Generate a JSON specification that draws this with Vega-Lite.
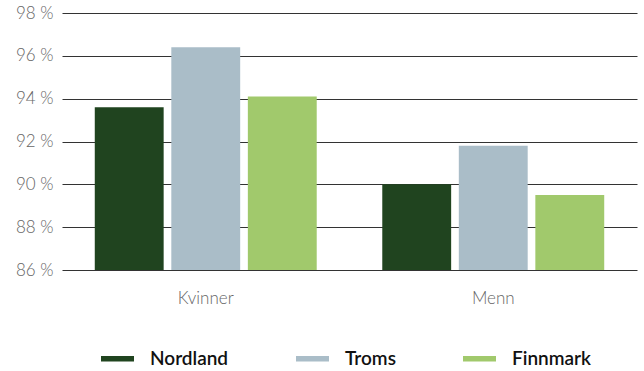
{
  "$schema": "https://vega.github.io/schema/vega-lite/v6.json",
  "width": 575,
  "height": 257,
  "autosize": {"type": "none"},
  "padding": {"left": 62, "top": 13, "right": 7, "bottom": 101},
  "background": "white",
  "data": {"values": [
    {"gruppe": "Kvinner", "fylke": "Nordland", "verdi": 93.6},
    {"gruppe": "Kvinner", "fylke": "Troms", "verdi": 96.4},
    {"gruppe": "Kvinner", "fylke": "Finnmark", "verdi": 94.1},
    {"gruppe": "Menn", "fylke": "Nordland", "verdi": 90.0},
    {"gruppe": "Menn", "fylke": "Troms", "verdi": 91.8},
    {"gruppe": "Menn", "fylke": "Finnmark", "verdi": 89.5}
  ]},
  "mark": {"type": "bar", "clip": true},
  "encoding": {
    "x": {"field": "gruppe", "type": "nominal", "sort": ["Kvinner", "Menn"],
      "scale": {"paddingInner": 0.228, "paddingOuter": 0.114},
      "axis": {"title": null, "labelAngle": 0, "ticks": false, "domain": false, "labelPadding": 20,
        "labelFont": "Lato", "labelFontSize": 17, "labelFontWeight": 300, "labelColor": "#666666"}},
    "xOffset": {"field": "fylke", "type": "nominal", "sort": ["Nordland", "Troms", "Finnmark"],
      "scale": {"paddingInner": 0.1, "paddingOuter": 0}},
    "y": {"field": "verdi", "type": "quantitative",
      "scale": {"domain": [86, 98], "nice": false, "zero": false},
      "axis": {"title": null, "values": [86, 88, 90, 92, 94, 96, 98], "ticks": false, "domain": false,
        "labelExpr": "datum.value + ' %'", "labelPadding": 9,
        "labelFont": "Lato", "labelFontSize": 17, "labelFontWeight": 300, "labelColor": "#666666",
        "grid": true, "gridColor": "#333333", "gridWidth": 1}},
    "color": {"field": "fylke", "type": "nominal", "sort": ["Nordland", "Troms", "Finnmark"],
      "scale": {"domain": ["Nordland", "Troms", "Finnmark"], "range": ["#20441F", "#AABDC8", "#A1C96C"]},
      "legend": {"title": null, "orient": "none", "direction": "horizontal", "legendX": 39, "legendY": 329,
        "symbolType": "M-1,-0.17H1V0.17H-1Z", "symbolSize": 1089, "symbolStrokeWidth": 0, "symbolOpacity": 1,
        "labelFont": "Lato", "labelFontSize": 19, "labelFontWeight": 600, "labelColor": "#111111",
        "labelOffset": 16, "columnPadding": 67}}
  },
  "config": {"view": {"stroke": null}}
}
